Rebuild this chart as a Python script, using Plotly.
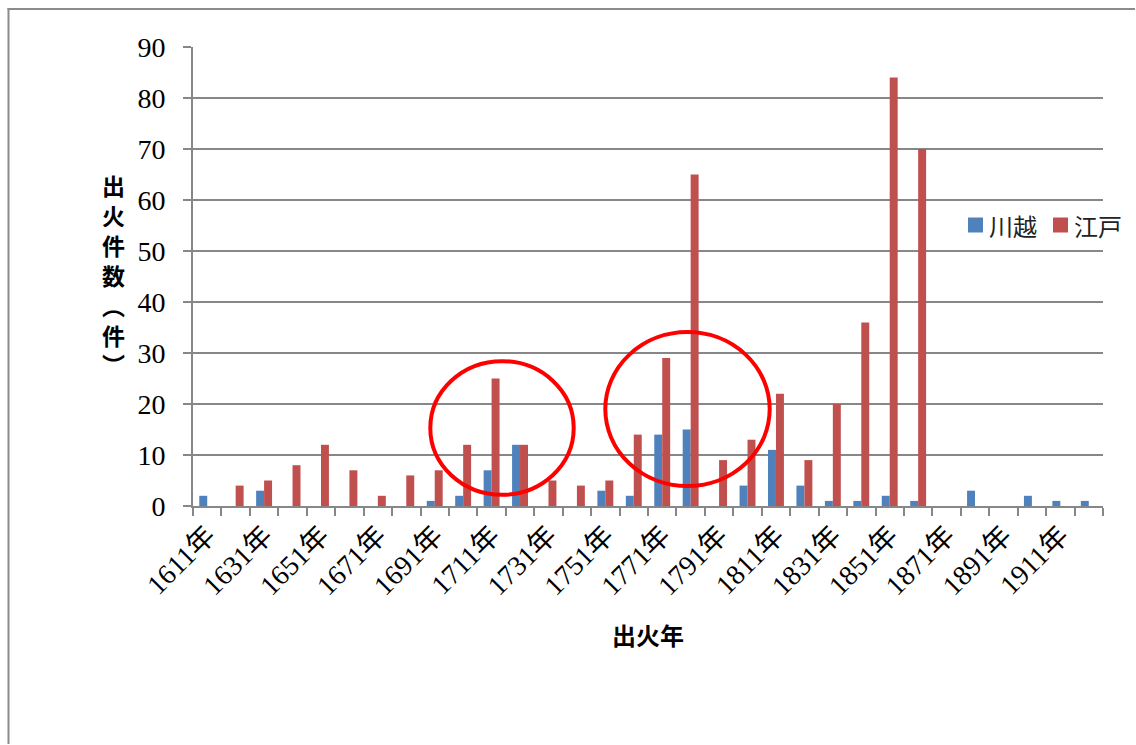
import plotly.graph_objects as go

# ---- data -------------------------------------------------------------
categories = [
    "1611年", "1621年", "1631年", "1641年", "1651年", "1661年", "1671年", "1681年",
    "1691年", "1701年", "1711年", "1721年", "1731年", "1741年", "1751年", "1761年",
    "1771年", "1781年", "1791年", "1801年", "1811年", "1821年", "1831年", "1841年",
    "1851年", "1861年", "1871年", "1881年", "1891年", "1901年", "1911年", "1921年",
]
kawagoe = [2, 0, 3, 0, 0, 0, 0, 0, 1, 2, 7, 12, 0, 0, 3, 2,
           14, 15, 0, 4, 11, 4, 1, 1, 2, 1, 0, 3, 0, 2, 1, 1]
edo = [0, 4, 5, 8, 12, 7, 2, 6, 7, 12, 25, 12, 5, 4, 5, 14,
       29, 65, 9, 13, 22, 9, 20, 36, 84, 70, 0, 0, 0, 0, 0, 0]
series_names = ["川越", "江戸"]
series_colors = ["#4F81BD", "#C0504D"]
y_title = "出火件数︵件︶"   # written vertically, one character per line
x_title = "出火年"

# shown tick labels: every other category
tick_text = [c if i % 2 == 0 else "" for i, c in enumerate(categories)]

# ---- layout geometry ----------------------------------------------------
W, H = 1136, 745
L, R, T, B = 193, 33, 47, 239
PW, PH = W - L - R, H - T - B


def px_x(px):
    return (px - L) / PW


def px_y(py):
    return (H - B - py) / PH


SERIF = "Liberation Serif, Noto Sans CJK JP, serif"
CJK = "Noto Sans CJK JP, sans-serif"
GRID = "#878787"
FRAME = "#8c8c8c"

fig = go.Figure()
for name, vals, col in zip(series_names, [kawagoe, edo], series_colors):
    fig.add_trace(go.Bar(x=categories, y=vals, name=name, showlegend=False,
                         marker=dict(color=col, line=dict(width=0))))

fig.update_layout(
    width=W, height=H, autosize=False,
    margin=dict(l=L, r=R, t=T, b=B, pad=0),
    paper_bgcolor="white", plot_bgcolor="white",
    barmode="group", bargap=0.44, bargroupgap=0.0,
    xaxis=dict(
        type="category", tickmode="array", tickvals=categories, ticktext=tick_text,
        tickson="boundaries", ticks="outside", ticklen=8, tickwidth=2,
        tickcolor=GRID, tickangle=-45,
        tickfont=dict(family=SERIF, size=28, color="black"),
        showline=True, linecolor=GRID, linewidth=2, showgrid=False,
    ),
    yaxis=dict(
        range=[0, 90], tickmode="linear", tick0=0, dtick=10,
        ticks="outside", ticklen=8, tickwidth=2, tickcolor=GRID,
        ticklabelstandoff=12,
        tickfont=dict(family=SERIF, size=28, color="black"),
        showline=True, linecolor=GRID, linewidth=2,
        showgrid=True, gridcolor=GRID, gridwidth=2, zeroline=False,
    ),
)

shapes = [
    # outer frame of the chart area (top and left edges visible)
    dict(type="line", xref="paper", yref="paper",
         x0=px_x(7.5), x1=px_x(W - 1), y0=px_y(9), y1=px_y(9),
         line=dict(color=FRAME, width=2), layer="below"),
    dict(type="line", xref="paper", yref="paper",
         x0=px_x(8.5), x1=px_x(8.5), y0=px_y(8), y1=px_y(H - 1),
         line=dict(color=FRAME, width=2), layer="below"),
    # highlight ellipses
    dict(type="circle", xref="paper", yref="y",
         x0=px_x(430.3), x1=px_x(573.7), y0=2.2, y1=28.4,
         line=dict(color="#FF0000", width=4), layer="above"),
    dict(type="circle", xref="paper", yref="y",
         x0=px_x(605.3), x1=px_x(769.7), y0=3.9, y1=34.1,
         line=dict(color="#FF0000", width=4), layer="above"),
]

annotations = [
    dict(text="<b>" + "<br>".join(y_title) + "</b>", xref="paper", yref="paper",
         x=px_x(113), y=px_y(274), xanchor="center", yanchor="middle",
         showarrow=False, font=dict(family=CJK, size=23, color="black")),
    dict(text=f"<b>{x_title}</b>", xref="paper", yref="paper",
         x=0.5, y=px_y(634), xanchor="center", yanchor="middle",
         showarrow=False, font=dict(family=CJK, size=24, color="black")),
]

# legend (key squares + labels) placed at the right of the plot
legend_key_left = [968, 1053]
legend_y = 225
for name, col, kx in zip(series_names, series_colors, legend_key_left):
    shapes.append(dict(type="rect", xref="paper", yref="paper",
                       x0=px_x(kx), x1=px_x(kx + 15),
                       y0=px_y(legend_y + 7.5), y1=px_y(legend_y - 7.5),
                       fillcolor=col, line=dict(width=0)))
    annotations.append(dict(text=name, xref="paper", yref="paper",
                            x=px_x(kx + 19), y=px_y(legend_y),
                            xanchor="left", yanchor="middle", showarrow=False,
                            font=dict(family=CJK, size=24, color="#222222")))

fig.update_layout(shapes=shapes, annotations=annotations)

fig.write_html("out.html",
               config={"displayModeBar": False},
               post_script="document.body.style.margin='0px';"
                           "document.body.style.overflow='hidden';")
